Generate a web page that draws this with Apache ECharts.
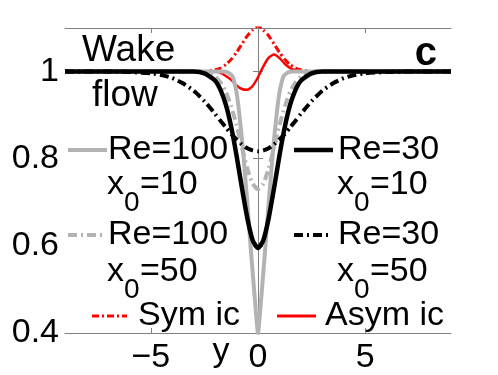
<!DOCTYPE html>
<html>
<head>
<meta charset="utf-8">
<script src="https://cdn.jsdelivr.net/npm/echarts@6/dist/echarts.min.js"></script>
<style>
  html, body { margin: 0; padding: 0; background: #fff; }
  #chart { width: 498px; height: 375px; }
</style>
</head>
<body>
<div id="chart"></div>
<script>
// cross-stream position y and velocity profiles
const yGrid = [-9, -7, -6, -5, -4.5, -4, -3.5, -3, -2.5, -2, -1.75, -1.5, -1.25, -1, -0.75, -0.5, -0.25, 0,
  0.25, 0.5, 0.75, 1, 1.25, 1.5, 1.75, 2, 2.5, 3, 3.5, 4, 4.5, 5, 6, 7, 9];
const yFine = [-9, -3, -1.6, -1.4, -1.2, -1.1, -1, -0.9, -0.8, -0.7, -0.6, -0.5, -0.4, -0.3, -0.2, -0.1, 0,
  0.1, 0.2, 0.3, 0.4, 0.5, 0.6, 0.7, 0.8, 0.9, 1, 1.1, 1.2, 1.4, 1.6, 3, 9];

const re100x10 = [1, 1, 1, 0.998, 0.99, 0.975, 0.952, 0.915, 0.87, 0.82, 0.76, 0.70, 0.635, 0.57, 0.51, 0.45, 0.40,
  0.45, 0.51, 0.57, 0.635, 0.70, 0.76, 0.82, 0.87, 0.915, 0.952, 0.975, 0.99, 0.998, 1, 1, 1];
const re30x10 = [1, 1, 1, 1, 1, 1, 1, 1, 0.996, 0.979, 0.958, 0.924, 0.873, 0.807, 0.733, 0.664, 0.613, 0.595,
  0.613, 0.664, 0.733, 0.807, 0.873, 0.924, 0.958, 0.979, 0.996, 1, 1, 1, 1, 1, 1, 1, 1];
const re100x50 = [1, 1, 1, 1, 1, 1, 1, 1, 0.998, 0.988, 0.975, 0.954, 0.92, 0.877, 0.826, 0.778, 0.743, 0.73,
  0.743, 0.778, 0.826, 0.877, 0.92, 0.954, 0.975, 0.988, 0.998, 1, 1, 1, 1, 1, 1, 1, 1];
const re30x50 = [1, 1, 0.999, 0.996, 0.992, 0.985, 0.973, 0.956, 0.932, 0.903, 0.887, 0.872, 0.857, 0.844, 0.833, 0.824, 0.819, 0.817,
  0.819, 0.824, 0.833, 0.844, 0.857, 0.872, 0.887, 0.903, 0.932, 0.956, 0.973, 0.985, 0.992, 0.996, 0.999, 1, 1];
const symIc = [1, 1, 1, 1, 1, 1, 1, 1, 1, 1.004, 1.008, 1.016, 1.028, 1.044, 1.063, 1.082, 1.095, 1.105,
  1.095, 1.082, 1.063, 1.044, 1.028, 1.016, 1.008, 1.004, 1, 1, 1, 1, 1, 1, 1, 1, 1];
const asymIc = [1, 1, 1, 1, 1, 1, 1, 1, 1, 1, 0.997, 0.99, 0.981, 0.968, 0.96, 0.958, 0.967, 0.987,
  1.012, 1.032, 1.039, 1.031, 1.018, 1.008, 1.003, 1, 1, 1, 1, 1, 1, 1, 1, 1, 1];

const xTicks = [-5, 0, 5];
const yTicks = [0.4, 0.6, 0.8, 1];

const FONT = 'Liberation Sans, Arial, sans-serif';
const GREY = '#b3b3b3';
const AXIS = '#808080';
const DASHDOT = [9, 4, 2, 4];

function pairs(xs, ys) {
  return xs.map((x, i) => [x, ys[i]]);
}

function line(name, xs, ys, color, width, type) {
  return {
    name: name,
    type: 'line',
    data: pairs(xs, ys),
    showSymbol: false,
    smooth: 0.2,
    clip: true,
    lineStyle: { color: color, width: width, type: type || 'solid', cap: 'butt' }
  };
}

function txt(x, y, text, size, extra) {
  return {
    type: 'text', x: x, y: y, z: 100,
    style: Object.assign({
      text: text, fill: '#000', font: (size || 34) + 'px ' + FONT,
      align: 'left', verticalAlign: 'middle'
    }, extra || {})
  };
}

function sample(x1, x2, y, color, width, dash) {
  return {
    type: 'line', z: 100,
    shape: { x1: x1, y1: y, x2: x2, y2: y },
    style: { stroke: color, lineWidth: width, lineDash: dash || null }
  };
}

// x0 label with subscript 0
function xsub(x, y, rest) {
  return [
    txt(x, y, 'x'),
    txt(x + 17, y + 18, '0', 28),
    txt(x + 33, y, rest)
  ];
}

const chart = echarts.init(document.getElementById('chart'));

const axisCommon = {
  axisLine: { show: true, lineStyle: { color: AXIS, width: 1 } },
  splitLine: { show: false }
};

chart.setOption({
  animation: false,
  grid: { left: 65, right: 47, top: 28, bottom: 42 },
  xAxis: [
    Object.assign({
      type: 'value', min: -9, max: 9, position: 'bottom',
      axisTick: { inside: true, length: 5, customValues: xTicks, lineStyle: { color: AXIS } },
      axisLabel: {
        customValues: xTicks, margin: 8, color: '#000', fontSize: 34, fontFamily: FONT,
        formatter: v => (v < 0 ? '\u2212' + Math.abs(v) : String(v))
      }
    }, axisCommon),
    Object.assign({
      type: 'value', min: -9, max: 9, position: 'top',
      axisTick: { inside: true, length: 5, customValues: xTicks, lineStyle: { color: AXIS } },
      axisLabel: { show: false }
    }, axisCommon)
  ],
  yAxis: [
    Object.assign({
      type: 'value', min: 0.4, max: 1.1, position: 'left',
      axisTick: { inside: true, length: 5, customValues: yTicks, lineStyle: { color: AXIS } },
      axisLabel: {
        customValues: yTicks, margin: 6, color: '#000', fontSize: 34, fontFamily: FONT,
        formatter: v => String(v)
      }
    }, axisCommon),
    Object.assign({
      type: 'value', min: 0.4, max: 1.1, position: 'right',
      axisTick: { inside: true, length: 5, customValues: yTicks, lineStyle: { color: AXIS } },
      axisLabel: { show: false }
    }, axisCommon)
  ],
  series: [
    line('Sym ic', yGrid, symIc, '#ff0000', 3, [7, 3, 2, 3]),
    line('Asym ic', yGrid, asymIc, '#ff0000', 2.5),
    line('Re=100 x0=10', yFine, re100x10, GREY, 4),
    line('Re=100 x0=50', yGrid, re100x50, GREY, 4, DASHDOT),
    line('Re=30 x0=50', yGrid, re30x50, '#000', 4, DASHDOT),
    line('Re=30 x0=10', yGrid, re30x10, '#000', 4.5)
  ],
  graphic: [
    txt(82, 51, 'Wake', 37),
    txt(92, 96, 'flow', 37),
    txt(437, 54, 'c', 40, { align: 'right', font: 'bold 40px ' + FONT }),

    sample(68, 107, 150, GREY, 4),
    txt(108, 150, 'Re=100'),
    ...xsub(107, 185, '=10'),

    sample(294, 333, 150, '#000', 4.5),
    txt(338, 150, 'Re=30'),
    ...xsub(337, 185, '=10'),

    sample(68, 102, 235, GREY, 4, [9, 4, 2, 4]),
    txt(108, 235, 'Re=100'),
    ...xsub(107, 272, '=50'),

    sample(294, 329, 235, '#000', 4, [9, 4, 2, 4]),
    txt(338, 235, 'Re=30'),
    ...xsub(337, 272, '=50'),

    sample(92, 127, 316, '#ff0000', 3, [7, 3, 2, 3]),
    txt(138, 316, 'Sym ic'),

    sample(277, 316, 316, '#ff0000', 3),
    txt(325, 316, 'Asym ic'),

    txt(221, 352, 'y', 34, { align: 'center' })
  ]
});
</script>
</body>
</html>
